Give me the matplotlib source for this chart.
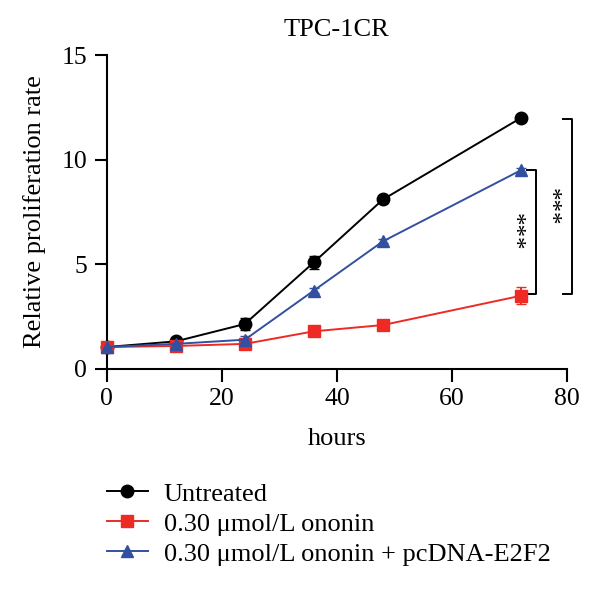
import numpy as np
import matplotlib.pyplot as plt
from matplotlib.lines import Line2D

plt.rcParams['font.family'] = ['Liberation Serif', 'DejaVu Serif']

# Data
hours = [0, 12, 24, 36, 48, 72]
untreated = [1.05, 1.32, 2.15, 5.1, 8.1, 12.0]
untreated_err = [0.1, 0.1, 0.3, 0.3, 0.15, 0.1]
ononin = [1.05, 1.1, 1.2, 1.8, 2.1, 3.5]
ononin_err = [0.1, 0.1, 0.1, 0.1, 0.1, 0.4]
ononin_e2f2 = [1.05, 1.2, 1.4, 3.75, 6.1, 9.5]
ononin_e2f2_err = [0.1, 0.1, 0.2, 0.1, 0.1, 0.1]

labels = ['Untreated', '0.30 μmol/L ononin', '0.30 μmol/L ononin + pcDNA-E2F2']
colors = ['#000000', '#ee2a24', '#3350a0']
markers = ['o', 's', '^']
msizes = [9, 8.5, 9]

fig = plt.figure(figsize=(6, 5.9), dpi=100)
ax = fig.add_axes([0.178, 0.3746, 0.767, 0.532])

series = [(untreated, untreated_err), (ononin, ononin_err), (ononin_e2f2, ononin_e2f2_err)]
for i, (vals, errs) in enumerate(series):
    ax.errorbar(hours, vals, yerr=errs, color=colors[i], marker=markers[i],
                markersize=msizes[i], linewidth=1.4, capsize=3.5, elinewidth=1.4,
                clip_on=False, zorder=3)

ax.set_xlim(0, 80)
ax.set_ylim(0, 15)
ax.set_xticks([0, 20, 40, 60, 80])
ax.set_yticks([0, 5, 10, 15])
ax.spines['top'].set_visible(False)
ax.spines['right'].set_visible(False)
ax.spines['left'].set_linewidth(1.5)
ax.spines['bottom'].set_linewidth(1.5)
ax.tick_params(direction='out', length=9, width=1.5, labelsize=18.5, pad=5)
ax.set_xlabel('hours', fontsize=19, labelpad=13)
ax.set_ylabel('Relative proliferation rate', fontsize=19)
ax.yaxis.set_label_coords(-0.132, 0.5)
ax.set_title('TPC-1CR', fontsize=19, pad=14)

# significance brackets
def bracket(x, y0, y1, text, tx):
    w = 1.5
    ax.plot([x - w, x, x, x - w], [y1, y1, y0, y0], color='black', lw=1.4, clip_on=False)
    ax.text(tx, (y0 + y1) / 2, text, rotation=-90, ha='center', va='center',
            fontsize=18, clip_on=False)

bracket(74.6, 3.6, 9.5, '***', 70.6)
bracket(80.8, 3.6, 11.95, '***', 76.8)

handles = [Line2D([0], [0], color=colors[i], marker=markers[i], markersize=msizes[i], lw=1.4)
           for i in range(3)]
fig.legend(handles, labels, loc='upper left', bbox_to_anchor=(0.178, 0.183),
           frameon=False, fontsize=19, handlelength=1.55, labelspacing=0.25,
           handletextpad=0.6, borderaxespad=0, borderpad=0)

fig.savefig('out.png', dpi=100)
